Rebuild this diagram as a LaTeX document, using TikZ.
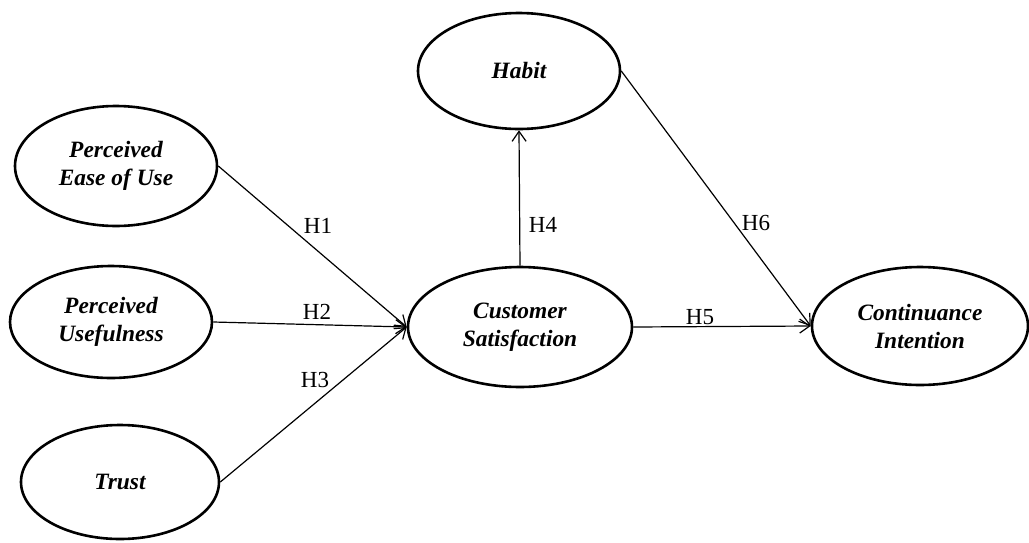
\documentclass[tikz,border=0pt]{standalone}
\usepackage{fontspec}
\setmainfont{Liberation Serif}
\usetikzlibrary{arrows.meta,shapes.geometric}

\tikzset{
  konstrukt/.style={draw, ellipse, line width=1.3pt, inner sep=0pt,
    align=center, font=\fontsize{11.7}{14}\selectfont\bfseries\itshape},
  pfeil/.style={line width=0.6pt, -{Straight Barb[length=5pt,width=7pt]}},
  hyp/.style={font=\fontsize{11.5}{14}\selectfont}
}

\begin{document}
\begin{tikzpicture}[x=0.5pt,y=-0.5pt]

\useasboundingbox (0,0) rectangle (1029,542);

% Konstrukte
\node[konstrukt, minimum width=101pt, minimum height=60pt] (peou) at (116,166) {Perceived\\Ease of Use};
\node[konstrukt, minimum width=101pt, minimum height=56pt] (pu) at (111,322) {Perceived\\Usefulness};
\node[konstrukt, minimum width=99pt, minimum height=57pt] (trust) at (120,482) {Trust};
\node[konstrukt, minimum width=101pt, minimum height=58pt] (habit) at (519,71) {Habit};
\node[konstrukt, minimum width=112pt, minimum height=60pt] (cs) at (520,327) {Customer\\Satisfaction};
\node[konstrukt, minimum width=108pt, minimum height=59pt] (ci) at (920,326) {Continuance\\Intention};

% Pfade
\draw[pfeil] (peou.east) -- (cs.west);
\draw[pfeil] (pu.east) -- (cs.west);
\draw[pfeil] (trust.east) -- (cs.west);
\draw[pfeil] (cs.north) -- (habit.south);
\draw[pfeil] (cs.east) -- (ci.west);
\draw[pfeil] (habit.east) -- (ci.west);

% Hypothesen
\node[hyp] (h1) at (318,226) {H1};
\node[hyp] (h2) at (317,312) {H2};
\node[hyp] (h3) at (315,380) {H3};
\node[hyp] (h4) at (543,225) {H4};
\node[hyp] (h5) at (700,317) {H5};
\node[hyp] (h6) at (756,223) {H6};

\end{tikzpicture}
\end{document}
